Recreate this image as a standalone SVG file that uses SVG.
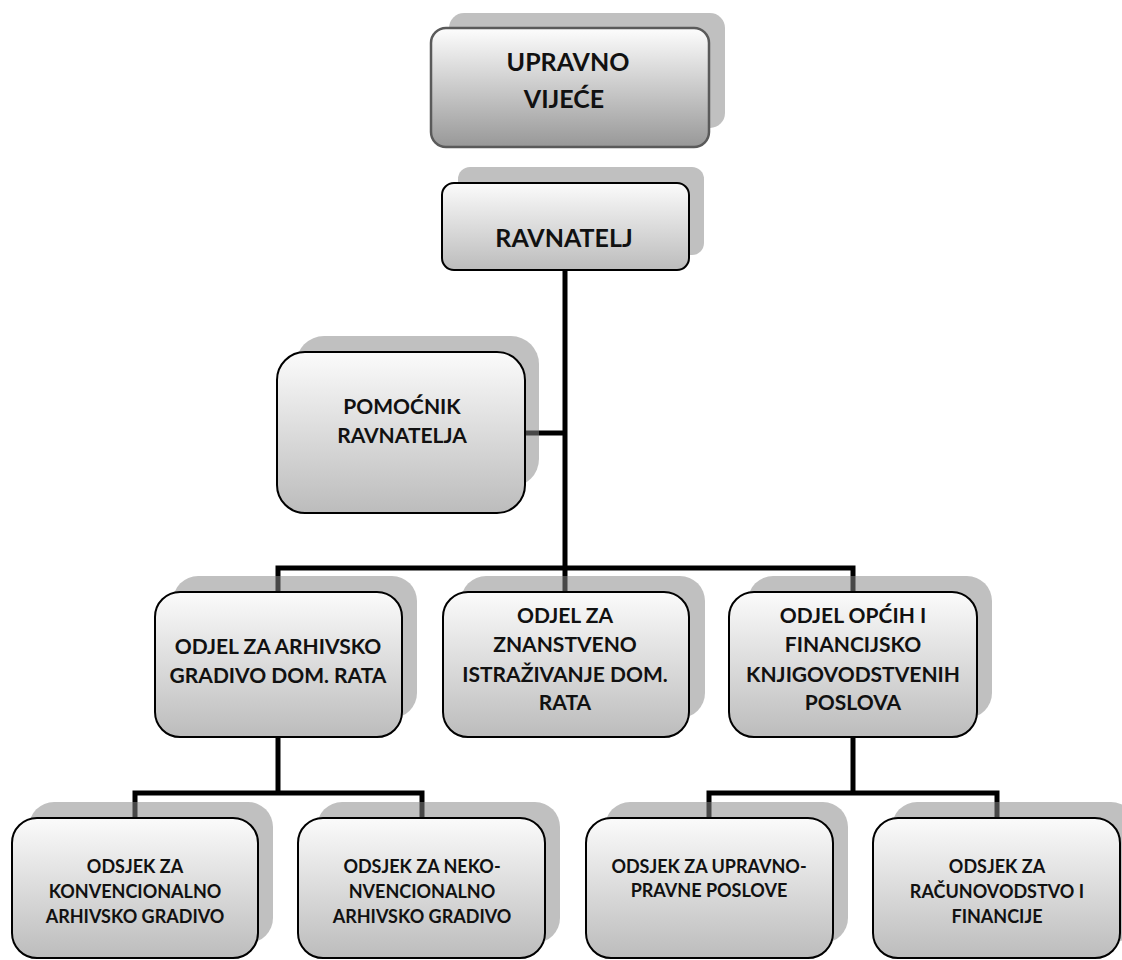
<svg xmlns="http://www.w3.org/2000/svg" width="1122" height="960" viewBox="0 0 1122 960">
<defs>
<linearGradient id="g1" x1="0" y1="0" x2="0" y2="1"><stop offset="0" stop-color="#fbfbfb"/><stop offset="1" stop-color="#bcbcbc"/></linearGradient>
<linearGradient id="g0" x1="0" y1="0" x2="0" y2="1"><stop offset="0" stop-color="#fdfdfd"/><stop offset="1" stop-color="#989898"/></linearGradient>
<style>
.sh{fill:#888;fill-opacity:0.53}
.bx{fill:url(#g1);stroke:#000;stroke-width:2}
.bx0{fill:url(#g0);stroke:#5a5a5a;stroke-width:2.5}
.t{font-family:Lato,"Liberation Sans",Arial,sans-serif;font-weight:bold;fill:#111;text-anchor:middle}
.cn{fill:none;stroke:#000;stroke-width:5;stroke-linejoin:miter;stroke-linecap:butt}
</style>
</defs>
<rect width="1122" height="960" fill="#fff"/>
<g id="connectors">
<path class="cn" d="M565,270 V592"/>
<path class="cn" d="M525,433 H565"/>
<path class="cn" d="M278,592 V568 H853 V592"/>
<path class="cn" d="M278,737 V793"/>
<path class="cn" d="M135,818 V793 H422 V818"/>
<path class="cn" d="M853,737 V793"/>
<path class="cn" d="M709,818 V793 H997 V818"/>
</g>
<g id="upravno-vijece">
<rect class="sh" x="449" y="13" width="276" height="115" rx="15"/>
<rect class="bx0" x="431" y="28" width="278" height="119" rx="15"/>
<text class="t" font-size="25"><tspan x="568" y="71">UPRAVNO</tspan><tspan x="564" y="108">VIJEĆE</tspan></text>
</g>
<g id="ravnatelj">
<rect class="sh" x="458" y="167" width="246" height="88" rx="12"/>
<rect class="bx" x="442" y="183" width="247" height="87" rx="12"/>
<text class="t" font-size="25" x="564" y="247">RAVNATELJ</text>
</g>
<g id="pomocnik">
<rect class="sh" x="296" y="336" width="243" height="151" rx="28"/>
<rect class="bx" x="277" y="352" width="248" height="161" rx="28"/>
<text class="t" font-size="21"><tspan x="402" y="414">POMOĆNIK</tspan><tspan x="402" y="443">RAVNATELJA</tspan></text>
</g>
<g id="odjel-arhivsko">
<rect class="sh" x="173" y="576" width="244" height="142" rx="25"/>
<rect class="bx" x="155" y="592" width="247" height="145" rx="25"/>
<text class="t" font-size="21"><tspan x="278" y="654">ODJEL ZA ARHIVSKO</tspan><tspan x="278" y="683">GRADIVO DOM. RATA</tspan></text>
</g>
<g id="odjel-znanstveno">
<rect class="sh" x="461" y="576" width="244" height="142" rx="25"/>
<rect class="bx" x="443" y="592" width="246" height="145" rx="25"/>
<text class="t" font-size="21"><tspan x="565" y="623">ODJEL ZA</tspan><tspan x="565" y="652">ZNANSTVENO</tspan><tspan x="565" y="682">ISTRAŽIVANJE DOM.</tspan><tspan x="565" y="710">RATA</tspan></text>
</g>
<g id="odjel-opcih">
<rect class="sh" x="748" y="576" width="244" height="142" rx="25"/>
<rect class="bx" x="729" y="592" width="248" height="145" rx="25"/>
<text class="t" font-size="21"><tspan x="853" y="623">ODJEL OPĆIH I</tspan><tspan x="853" y="652">FINANCIJSKO</tspan><tspan x="853" y="682">KNJIGOVODSTVENIH</tspan><tspan x="853" y="710">POSLOVA</tspan></text>
</g>
<g id="odsjek-konvencionalno">
<rect class="sh" x="29" y="802" width="244" height="141" rx="25"/>
<rect class="bx" x="12" y="818" width="246" height="140" rx="25"/>
<text class="t" font-size="18"><tspan x="135" y="873">ODSJEK ZA</tspan><tspan x="135" y="898">KONVENCIONALNO</tspan><tspan x="135" y="923">ARHIVSKO GRADIVO</tspan></text>
</g>
<g id="odsjek-nekonvencionalno">
<rect class="sh" x="317" y="802" width="243" height="141" rx="25"/>
<rect class="bx" x="298" y="818" width="247" height="140" rx="25"/>
<text class="t" font-size="18"><tspan x="422" y="873">ODSJEK ZA NEKO-</tspan><tspan x="422" y="898">NVENCIONALNO</tspan><tspan x="422" y="923">ARHIVSKO GRADIVO</tspan></text>
</g>
<g id="odsjek-upravno">
<rect class="sh" x="605" y="802" width="243" height="141" rx="25"/>
<rect class="bx" x="586" y="818" width="247" height="140" rx="25"/>
<text class="t" font-size="18"><tspan x="709" y="873">ODSJEK ZA UPRAVNO-</tspan><tspan x="709" y="897">PRAVNE POSLOVE</tspan></text>
</g>
<g id="odsjek-racunovodstvo">
<rect class="sh" x="892" y="802" width="244" height="141" rx="25"/>
<rect class="bx" x="873" y="818" width="247" height="140" rx="25"/>
<text class="t" font-size="18"><tspan x="997" y="873">ODSJEK ZA</tspan><tspan x="997" y="898">RAČUNOVODSTVO I</tspan><tspan x="997" y="923">FINANCIJE</tspan></text>
</g>
</svg>
